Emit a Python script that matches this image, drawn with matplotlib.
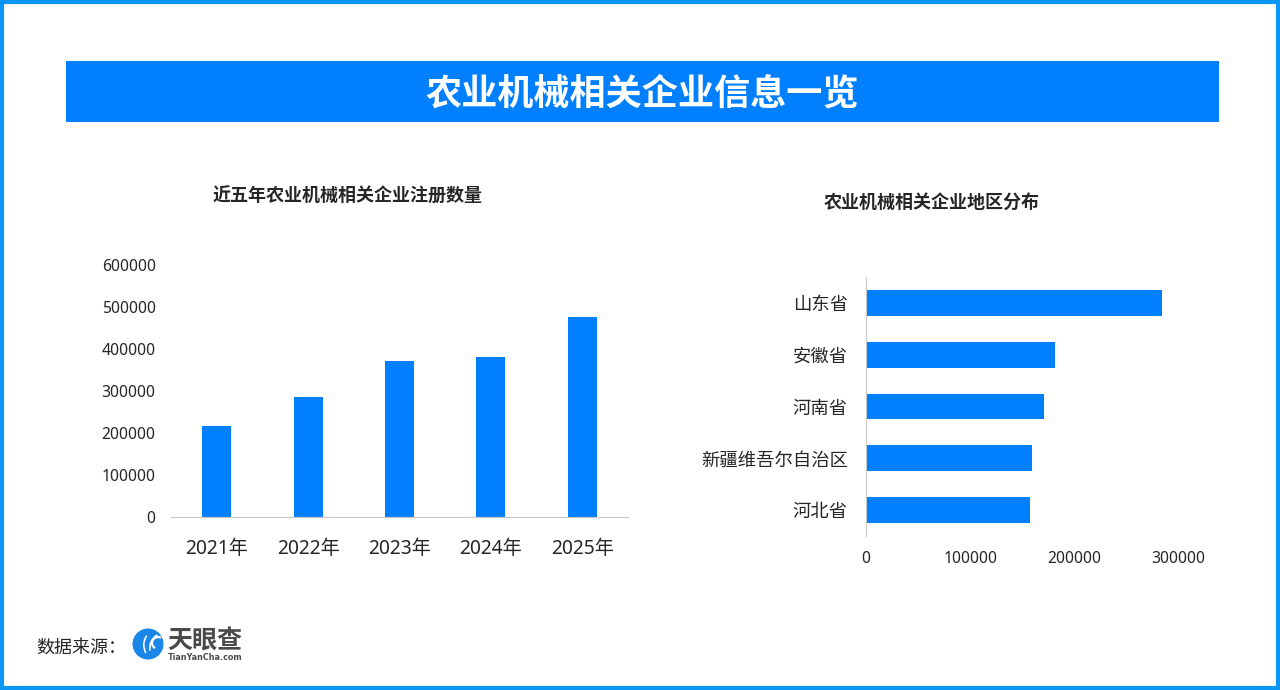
import matplotlib
matplotlib.use("Agg")
import matplotlib.pyplot as plt
from matplotlib.patches import Rectangle, Wedge, Circle

plt.rcParams['font.family'] = ['Noto Sans', 'Noto Sans CJK SC', 'DejaVu Sans']

W, H = 1280, 690
BLUE = '#0080FF'
DARK = '#262626'
AXIS = '#C8C8C8'

years = ['2021年', '2022年', '2023年', '2024年', '2025年']
year_counts = [216700, 285700, 371400, 381500, 476000]

regions = ['山东省', '安徽省', '河南省', '新疆维吾尔自治区', '河北省']
region_counts = [283600, 181200, 171000, 159100, 156900]


# helper: axes from pixel box, y measured from the top of the image
def px_axes(x0, y0, x1, y1):
    return fig.add_axes([x0 / W, 1 - y1 / H, (x1 - x0) / W, (y1 - y0) / H])


fig = plt.figure(figsize=(W / 100, H / 100), dpi=100, facecolor='white')

# frame and banner
bg = fig.add_axes([0, 0, 1, 1])
bg.set_xlim(0, W)
bg.set_ylim(H, 0)
bg.axis('off')
bg.add_patch(Rectangle((2, 2), W - 4, H - 4, fill=False, ec='#0A96F5', lw=3))
bg.add_patch(Rectangle((66, 61), 1153, 61, fc=BLUE, ec='none'))
bg.text(642.5, 96, '农业机械相关企业信息一览', color='white', fontsize=26, fontweight='bold',
        ha='center', va='center')
bg.text(347.5, 197, '近五年农业机械相关企业注册数量', color=DARK, fontsize=13, fontweight='bold',
        ha='center', va='center')
bg.text(932, 203, '农业机械相关企业地区分布', color=DARK, fontsize=13, fontweight='bold',
        ha='center', va='center')

# left chart
ax = px_axes(171, 265, 628, 517)
ax.bar(range(len(years)), year_counts, width=0.316, color=BLUE)
ax.set_xlim(-0.5, 4.5)
ax.set_ylim(0, 600000)
ax.set_yticks(range(0, 600001, 100000))
ax.set_xticks(range(len(years)))
ax.set_xticklabels(years, fontsize=13.8, color=DARK)
ax.tick_params(axis='y', length=0, pad=11, labelsize=11.3, labelcolor=DARK)
ax.tick_params(axis='x', length=0, pad=15.5)
for s in ['top', 'left', 'right']:
    ax.spines[s].set_visible(False)
ax.spines['bottom'].set_color(AXIS)

# right chart
ax2 = px_axes(866, 277, 1200, 536)
ax2.barh(range(len(regions)), region_counts, height=0.5, color=BLUE)
ax2.set_ylim(4.5, -0.5)
ax2.set_xlim(0, 320500)
ax2.set_xticks([0, 100000, 200000, 300000])
ax2.set_yticks(range(len(regions)))
ax2.set_yticklabels(regions, fontsize=13.2, color=DARK)
ax2.tick_params(axis='y', length=0, pad=13)
ax2.tick_params(axis='x', length=0, pad=11, labelsize=11.3, labelcolor=DARK)
for s in ['top', 'bottom', 'right']:
    ax2.spines[s].set_visible(False)
ax2.spines['left'].set_color(AXIS)

# source line and logo
bg.text(36, 648, '数据来源：', color=DARK, fontsize=13, ha='left', va='center')
bg.add_patch(Circle((148, 644), 15.5, fc='#1A86E8', ec='none'))
bg.add_patch(Wedge((160, 645), 17, 150, 215, width=1.6, fc='white', ec='none'))
bg.add_patch(Wedge((165, 648), 16, 170, 240, width=1.6, fc='white', ec='none'))
bg.add_patch(Wedge((158, 643), 7, 120, 300, width=2.2, fc='white', ec='none'))
bg.text(205, 642, '天眼查', color='#4A4A4A', fontsize=18, fontweight='bold', ha='center', va='center')
bg.text(205, 657, 'TianYanCha.com', color='#4A4A4A', fontsize=5.8, fontweight='bold',
        family='DejaVu Sans', ha='center', va='center')

fig.savefig('out.png', dpi=100, facecolor='white')
